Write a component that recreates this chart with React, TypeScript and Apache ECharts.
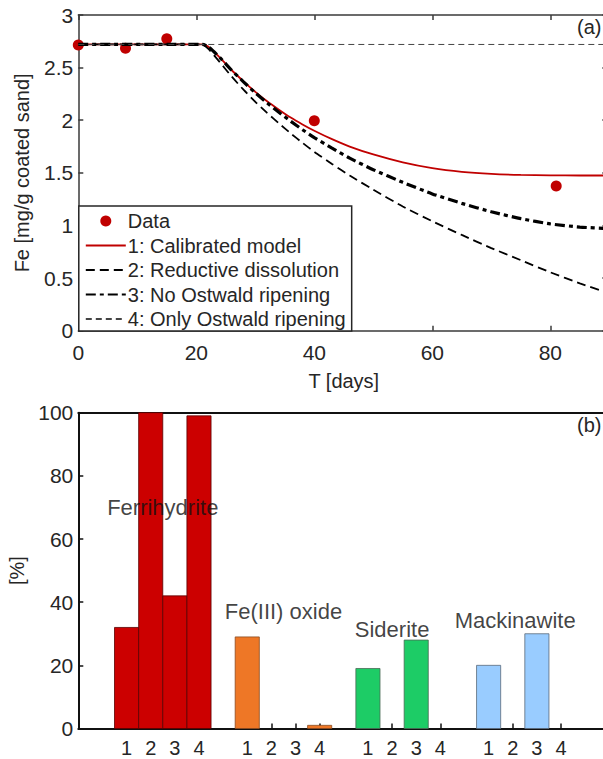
import React, { useEffect, useRef } from 'react';
import * as echarts from 'echarts';

// ---- Panel (a) data ----
const dataT = [0, 8, 15, 40, 81];
const dataFe = [2.715, 2.685, 2.775, 1.995, 1.375];

const modelT = [0, 21, 22, 24, 26, 28, 30, 32, 34, 36, 38, 40, 43, 46, 50, 55, 60, 65, 70, 75, 80, 85, 90];
const calibrated = [2.72, 2.72, 2.7, 2.595, 2.475, 2.37, 2.27, 2.18, 2.1, 2.025, 1.96, 1.9, 1.82, 1.75, 1.675, 1.6, 1.545, 1.51, 1.49, 1.48, 1.476, 1.475, 1.475];
const reductive = [2.72, 2.72, 2.68, 2.55, 2.415, 2.29, 2.175, 2.07, 1.97, 1.875, 1.785, 1.7, 1.585, 1.475, 1.34, 1.18, 1.04, 0.91, 0.785, 0.67, 0.555, 0.45, 0.355];
const noOstwald = [2.72, 2.72, 2.7, 2.595, 2.475, 2.365, 2.26, 2.165, 2.075, 1.99, 1.91, 1.835, 1.735, 1.64, 1.53, 1.41, 1.3, 1.21, 1.13, 1.065, 1.015, 0.985, 0.97];
const onlyT = [0, 90];
const onlyOstwald = [2.72, 2.72];

const legendNames = ['Data', '1: Calibrated model', '2: Reductive dissolution', '3: No Ostwald ripening', '4: Only Ostwald ripening'];

// ---- Panel (b) data ----
const scenarios = [1, 2, 3, 4];
const ferrihydrite = [32, 100, 42, 99];
const feOxide = [29, 0, 0, 1];
const siderite = [19, 0, 28, 0];
const mackinawite = [20, 0, 30, 0];
const mineralNames = ['Ferrihydrite', 'Fe(III) oxide', 'Siderite', 'Mackinawite'];
const groupStart = [1, 6, 11, 16];
const labelAnchors = [[2.5, 70], [7.5, 37], [12, 31.4], [17.1, 34.1]];

const FONT = 'Liberation Sans, Arial, Helvetica, sans-serif';
const TXT = '#262626';

function pairs(xs: number[], ys: number[]) {
  return xs.map((x, i) => [x, ys[i]]);
}

export default function App() {
  const ref = useRef<HTMLDivElement>(null);
  useEffect(() => {
    if (!ref.current) return;
    const chart = echarts.init(ref.current, null, { renderer: 'svg' });

    const gridA = { left: 78.3, top: 15, width: 531, height: 315.7, outerBoundsMode: 'none', containLabel: false };
    const gridB = { left: 78.3, top: 412.7, width: 531, height: 315.8, outerBoundsMode: 'none', containLabel: false };

    const axA = { color: '#3a3a3a', width: 1.5 };
    const axB = { color: '#111', width: 2 };

    const allPos = groupStart.flatMap((g) => scenarios.map((s) => g + s - 1));
    const fills = ['#cc0000', '#ee7726', '#1dcc66', '#99ccff'];
    const edges = ['#5a0000', '#8a4a20', '#4a6a55', '#5a6a7a'];

    const mineralSeries = [ferrihydrite, feOxide, siderite, mackinawite].map((vals, gi) => ({
      type: 'custom',
      name: mineralNames[gi],
      xAxisIndex: 2,
      yAxisIndex: 2,
      clip: false,
      renderItem: (_params: any, api: any) => {
        const x = api.value(0);
        const y = api.value(1);
        if (!y) return null;
        const p0 = api.coord([x - 0.5, y]);
        const p1 = api.coord([x + 0.5, 0]);
        return {
          type: 'rect',
          shape: { x: p0[0], y: p0[1], width: p1[0] - p0[0], height: p1[1] - p0[1] },
          style: { fill: fills[gi], stroke: edges[gi], lineWidth: 0.8 },
        };
      },
      encode: { x: 0, y: 1 },
      data: vals.map((v, i) => [groupStart[gi] + i, v]),
      z: 2,
    }));

    const lineEntry = (name: string) => ({ name, itemStyle: { opacity: 0 } });

    const option: any = {
      animation: false,
      textStyle: { fontFamily: FONT },
      grid: [gridA, gridB],
      legend: {
        data: [{ name: legendNames[0] }, ...legendNames.slice(1).map(lineEntry)],
        orient: 'vertical',
        left: 78.8,
        top: 206,
        itemWidth: 40,
        itemHeight: 11,
        itemGap: 4.5,
        padding: [5, 6, 2, 6],
        borderColor: '#262626',
        borderWidth: 1.5,
        borderRadius: 0,
        backgroundColor: '#fff',
        selectedMode: false,
        textStyle: { fontSize: 20, color: TXT, fontFamily: FONT, lineHeight: 20, padding: [0, 0, 0, -3] },
      },
      xAxis: [
        {
          type: 'value', gridIndex: 0, min: 0, max: 90, interval: 20, position: 'bottom',
          name: 'T [days]', nameLocation: 'middle', nameGap: 40,
          nameTextStyle: { fontSize: 20, color: TXT, fontFamily: FONT },
          axisLine: { show: true, onZero: false, lineStyle: axA },
          axisTick: { show: true, inside: true, length: 5, lineStyle: axA },
          axisLabel: { fontSize: 21, color: TXT, margin: 11, fontFamily: FONT, showMaxLabel: false },
          splitLine: { show: false },
        },
        {
          type: 'value', gridIndex: 0, min: 0, max: 90, interval: 20, position: 'top',
          axisLine: { show: true, onZero: false, lineStyle: axA },
          axisTick: { show: true, inside: true, length: 5, lineStyle: axA },
          axisLabel: { show: false },
          splitLine: { show: false },
        },
        {
          type: 'value', gridIndex: 1, min: -1, max: 21, position: 'bottom',
          axisLine: { show: true, onZero: false, lineStyle: axB },
          axisTick: { show: true, inside: true, length: 5, customValues: allPos, lineStyle: { color: '#111', width: 1.5 } },
          axisLabel: {
            fontSize: 20, color: TXT, margin: 9, fontFamily: FONT, customValues: allPos,
            formatter: (v: number) => String(((Math.round(v) - 1) % 5) + 1),
          },
          splitLine: { show: false },
        },
        {
          type: 'value', gridIndex: 1, min: -1, max: 21, position: 'top',
          axisLine: { show: true, onZero: false, lineStyle: axB },
          axisTick: { show: false },
          axisLabel: { show: false },
          splitLine: { show: false },
        },
      ],
      yAxis: [
        {
          type: 'value', gridIndex: 0, min: 0, max: 3, interval: 0.5, position: 'left',
          name: 'Fe [mg/g coated sand]', nameLocation: 'middle', nameGap: 46, nameRotate: 90,
          nameTextStyle: { fontSize: 20, color: TXT, fontFamily: FONT },
          axisLine: { show: true, onZero: false, lineStyle: axA },
          axisTick: { show: true, inside: true, length: 5, lineStyle: axA },
          axisLabel: { fontSize: 21, color: TXT, margin: 5, fontFamily: FONT },
          splitLine: { show: false },
        },
        {
          type: 'value', gridIndex: 0, min: 0, max: 3, interval: 0.5, position: 'right',
          axisLine: { show: true, onZero: false, lineStyle: axA },
          axisTick: { show: true, inside: true, length: 7, lineStyle: axA },
          axisLabel: { show: false },
          splitLine: { show: false },
        },
        {
          type: 'value', gridIndex: 1, min: 0, max: 100, interval: 20, position: 'left',
          name: '[%]', nameLocation: 'middle', nameGap: 51, nameRotate: 90,
          nameTextStyle: { fontSize: 20, color: TXT, fontFamily: FONT },
          axisLine: { show: true, onZero: false, lineStyle: axB },
          axisTick: { show: true, inside: true, length: 5, lineStyle: { color: '#111', width: 1.5 } },
          axisLabel: { fontSize: 21, color: TXT, margin: 5, fontFamily: FONT },
          splitLine: { show: false },
        },
      ],
      series: [
        {
          type: 'scatter', name: legendNames[0], xAxisIndex: 0, yAxisIndex: 0,
          symbol: 'circle', symbolSize: 11, clip: false,
          itemStyle: { color: '#c00000', opacity: 1 },
          data: pairs(dataT, dataFe), z: 2,
        },
        {
          type: 'line', name: legendNames[1], xAxisIndex: 0, yAxisIndex: 0,
          showSymbol: false, symbol: 'none', smooth: 0.2,
          lineStyle: { color: '#c00000', width: 1.8, type: 'solid' },
          itemStyle: { color: '#c00000' },
          data: pairs(modelT, calibrated), z: 3,
        },
        {
          type: 'line', name: legendNames[2], xAxisIndex: 0, yAxisIndex: 0,
          showSymbol: false, symbol: 'none', smooth: 0.2,
          lineStyle: { color: '#000', width: 1.8, type: [9, 5] },
          itemStyle: { color: '#000' },
          data: pairs(modelT, reductive), z: 4,
        },
        {
          type: 'line', name: legendNames[3], xAxisIndex: 0, yAxisIndex: 0,
          showSymbol: false, symbol: 'none', smooth: 0.2,
          lineStyle: { color: '#000', width: 3.2, type: [10, 4, 4, 4] },
          itemStyle: { color: '#000' },
          data: pairs(modelT, noOstwald), z: 5,
        },
        {
          type: 'line', name: legendNames[4], xAxisIndex: 0, yAxisIndex: 0,
          showSymbol: false, symbol: 'none',
          lineStyle: { color: '#444', width: 1, type: [6, 4] },
          itemStyle: { color: '#444' },
          data: pairs(onlyT, onlyOstwald), z: 6,
        },
        ...mineralSeries,
        {
          type: 'scatter', name: 'labels', xAxisIndex: 2, yAxisIndex: 2,
          symbolSize: 0, silent: true,
          label: {
            show: true, position: 'inside', fontSize: 22, color: '#111', fontFamily: FONT,
            formatter: (p: any) => mineralNames[p.dataIndex],
          },
          data: labelAnchors.map((a) => a), z: 10,
        },
      ],
      graphic: [
        { type: 'text', left: 577, top: 17, style: { text: '(a)', fontSize: 20, fill: TXT, fontFamily: FONT } },
        { type: 'text', left: 577, top: 415, style: { text: '(b)', fontSize: 20, fill: TXT, fontFamily: FONT } },
      ],
    };
    chart.setOption(option);
    return () => chart.dispose();
  }, []);
  return (
    <div style={{ position: 'absolute', left: 0, top: 0, width: 603, height: 759, overflow: 'hidden' }}>
      <div ref={ref} style={{ width: 620, height: 759 }} />
    </div>
  );
}
